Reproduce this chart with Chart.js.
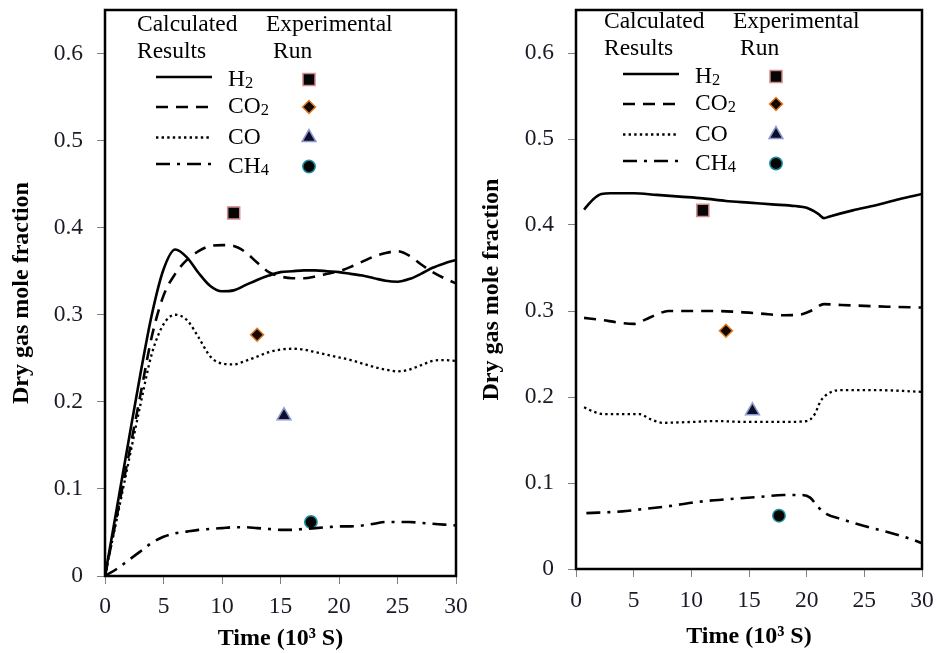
<!DOCTYPE html>
<html>
<head>
<meta charset="utf-8">
<script src="https://cdn.jsdelivr.net/npm/chart.js@4.4.0/dist/chart.umd.min.js"></script>
<style>
  body { margin: 0; background: #fff; width: 937px; height: 653px; position: relative; overflow: hidden; }
  canvas { position: absolute; top: 0; }
  #leftChart { left: 0; }
  #rightChart { left: 468px; }
</style>
</head>
<body>
<canvas id="leftChart" width="468" height="653"></canvas>
<canvas id="rightChart" width="469" height="653"></canvas>
<script>
// species shown in both panels (subscript kept apart so it can be drawn small)
const speciesNames = ['H', 'CO', 'CO', 'CH'];
const speciesSubs = ['2', '2', '', '4'];
const seriesLabels = ['H₂', 'CO₂', 'CO', 'CH₄'];
const calcHeading = ['Calculated', 'Results'];
const expHeading = ['Experimental', 'Run'];

// experimental run, time in 10^3 s
const expTime = [11.0, 13.0, 15.3, 17.6];
const expValues = [0.417, 0.277, 0.184, 0.062];

// left panel: calculated results on one time grid
const leftTime = [0,1,2,3,4,5,6,7,8,9,10,11,12,13,14,15,16,17,18,19,20,21,22,23,24,25,26,27,28,29,30];
const leftH2  = [0,0.077,0.154,0.23,0.3,0.352,0.375,0.366,0.348,0.333,0.327,0.328,0.334,0.34,0.345,0.349,0.35,0.351,0.351,0.35,0.349,0.347,0.345,0.342,0.339,0.338,0.341,0.347,0.354,0.359,0.363];
const leftCO2 = [0,0.068,0.137,0.206,0.275,0.322,0.347,0.363,0.373,0.379,0.38,0.379,0.372,0.36,0.349,0.344,0.342,0.342,0.344,0.347,0.35,0.355,0.361,0.367,0.371,0.373,0.368,0.358,0.349,0.342,0.336];
const leftCO  = [0,0.065,0.13,0.195,0.255,0.289,0.3,0.294,0.274,0.252,0.244,0.243,0.247,0.252,0.257,0.26,0.261,0.26,0.257,0.254,0.251,0.248,0.244,0.24,0.237,0.235,0.237,0.242,0.247,0.248,0.247];
const leftCH4 = [0,0.008,0.018,0.028,0.038,0.045,0.049,0.051,0.053,0.054,0.055,0.056,0.056,0.055,0.054,0.053,0.053,0.054,0.055,0.056,0.057,0.057,0.058,0.06,0.062,0.062,0.062,0.061,0.06,0.059,0.058];

// right panel: calculated results, each with its own time points
const rightH2Time  = [0.7,1.5,2.2,3,5,7,9,11,13,15,17,19,20,21,21.5,22,24,26,28,30];
const rightH2      = [0.418,0.43,0.436,0.437,0.437,0.435,0.433,0.431,0.428,0.426,0.424,0.422,0.42,0.413,0.408,0.41,0.417,0.423,0.43,0.436];
const rightCO2Time = [0.7,2,4,5,6,7,8,10,12,14,16,18,19.5,20.5,21.5,23,25,27,30];
const rightCO2     = [0.292,0.29,0.286,0.285,0.29,0.296,0.3,0.3,0.3,0.299,0.297,0.295,0.296,0.301,0.308,0.307,0.306,0.305,0.304];
const rightCOTime  = [0.7,1.5,2.5,4,5.5,6.5,7.5,10,12,15,18,20,20.7,21.2,22,23,26,30];
const rightCO      = [0.188,0.183,0.18,0.18,0.18,0.174,0.17,0.171,0.172,0.171,0.171,0.172,0.18,0.195,0.205,0.208,0.208,0.206];
const rightCH4Time = [0.9,4,6,8,10,12,14,16,18,19.5,20.3,21,21.7,23,25,27,29,30];
const rightCH4     = [0.065,0.067,0.07,0.073,0.077,0.08,0.082,0.084,0.086,0.086,0.083,0.072,0.064,0.058,0.05,0.043,0.035,0.03];

const yTicks = [0, 0.1, 0.2, 0.3, 0.4, 0.5, 0.6];
const xTicks = [0, 5, 10, 15, 20, 25, 30];

const serif = '"Liberation Serif", "Times New Roman", serif';
const tickColor = '#1b1b28';

function toPoints(times, values) {
  return times.map((t, i) => ({ x: t, y: values[i] }));
}

// line styles: solid, dashed, dotted, dash-dot
const lineStyles = [
  { borderDash: [], borderWidth: 2.6 },
  { borderDash: [12, 8], borderWidth: 2.6 },
  { borderDash: [2.4, 3.2], borderWidth: 2.3 },
  { borderDash: [14, 7, 3, 7], borderWidth: 2.6 }
];

function buildDatasets(series, tension) {
  const sets = series.map((pts, i) => ({
    label: seriesLabels[i],
    data: pts,
    borderColor: '#000',
    borderWidth: lineStyles[i].borderWidth,
    borderDash: lineStyles[i].borderDash,
    borderCapStyle: 'butt',
    pointRadius: 0,
    fill: false,
    tension: tension,
    cubicInterpolationMode: 'monotone'
  }));
  sets.push({
    type: 'scatter',
    label: 'Experimental Run',
    data: toPoints(expTime, expValues),
    showLine: false,
    pointStyle: ['rect', 'rectRot', 'triangle', 'circle'],
    pointRadius: [8.5, 6.5, 8, 6.2],
    backgroundColor: ['#050505', '#120800', '#0e0e2a', '#040404'],
    borderColor: ['#d28a8a', '#e07a22', '#8a9ad0', '#1f8f9f'],
    borderWidth: 1.5
  });
  return sets;
}

// black box around the plot area
const framePlugin = {
  id: 'frame',
  afterDatasetsDraw(chart) {
    const { ctx, chartArea: a } = chart;
    ctx.save();
    ctx.lineWidth = 2.5;
    ctx.strokeStyle = '#000';
    ctx.strokeRect(a.left, a.top, a.right - a.left, a.bottom - a.top);
    ctx.restore();
  }
};

// two-column key inside the plot: calculated lines and experimental markers
const keyPlugin = {
  id: 'keyBox',
  afterDraw(chart, args, opts) {
    const ctx = chart.ctx;
    const x0 = opts.x, y0 = opts.y;
    const lineRows = [52, 82, 112.5, 139];
    const textRows = [54.5, 82, 112.5, 141.5];
    ctx.save();
    ctx.fillStyle = '#000';
    ctx.textBaseline = 'middle';
    ctx.font = '23.5px ' + serif;
    ctx.fillText(calcHeading[0], x0, y0);
    ctx.fillText(calcHeading[1], x0, y0 + 27);
    ctx.fillText(expHeading[0], x0 + 129, y0);
    ctx.fillText(expHeading[1], x0 + 136, y0 + 27);

    const exp = chart.data.datasets[4];
    for (let i = 0; i < 4; i++) {
      const ds = chart.data.datasets[i];
      ctx.save();
      ctx.strokeStyle = '#000';
      ctx.lineWidth = ds.borderWidth;
      ctx.setLineDash(ds.borderDash);
      ctx.beginPath();
      ctx.moveTo(x0 + 19, y0 + lineRows[i]);
      ctx.lineTo(x0 + 75, y0 + lineRows[i]);
      ctx.stroke();
      ctx.restore();

      const ty = y0 + textRows[i];
      ctx.font = '23.5px ' + serif;
      ctx.fillText(speciesNames[i], x0 + 91, ty);
      if (speciesSubs[i]) {
        const w = ctx.measureText(speciesNames[i]).width;
        ctx.font = '16.5px ' + serif;
        ctx.fillText(speciesSubs[i], x0 + 91 + w, ty + 4);
      }

      ctx.save();
      ctx.fillStyle = exp.backgroundColor[i];
      ctx.strokeStyle = exp.borderColor[i];
      ctx.lineWidth = exp.borderWidth;
      Chart.helpers.drawPoint(ctx, {
        pointStyle: exp.pointStyle[i],
        radius: exp.pointRadius[i],
        borderWidth: exp.borderWidth,
        rotation: 0
      }, x0 + 172, ty);
      ctx.restore();
    }
    ctx.restore();
  }
};

// fixed axis box sizes, with no extra room reserved for edge labels
function fixBox(s, size, vertical) {
  if (vertical) s.width = size; else s.height = size;
  s.paddingTop = 0;
  s.paddingBottom = 0;
  s.paddingLeft = 0;
  s.paddingRight = 0;
}

function makeChart(id, series, tension, box) {
  const ctx = document.getElementById(id).getContext('2d');
  return new Chart(ctx, {
    type: 'line',
    data: { datasets: buildDatasets(series, tension) },
    options: {
      responsive: false,
      animation: false,
      devicePixelRatio: 1,
      layout: { padding: { top: box.top, right: box.right, left: 0, bottom: 0 } },
      plugins: {
        legend: { display: false },
        tooltip: { enabled: false },
        keyBox: { x: box.keyX, y: box.keyY }
      },
      scales: {
        x: {
          type: 'linear',
          min: 0,
          max: 30,
          afterBuildTicks: s => { s.ticks = xTicks.map(v => ({ value: v })); },
          ticks: { padding: box.xTickPad, font: { family: serif, size: 23.5 }, color: tickColor, maxRotation: 0 },
          grid: { drawOnChartArea: false, tickLength: 8, color: '#808080', lineWidth: 1 },
          border: { display: false },
          title: {
            display: true,
            text: 'Time (10³ S)',
            color: '#000',
            font: { family: serif, size: 24, weight: 'bold' },
            padding: { top: 0, bottom: box.xTitlePad }
          },
          afterFit: s => fixBox(s, box.xHeight, false)
        },
        y: {
          type: 'linear',
          min: 0,
          max: 0.65,
          afterBuildTicks: s => { s.ticks = yTicks.map(v => ({ value: v })); },
          ticks: {
            padding: 14,
            font: { family: serif, size: 23.5 },
            color: tickColor,
            callback: v => (v === 0 ? '0' : v.toFixed(1))
          },
          grid: { drawOnChartArea: false, tickLength: 8, color: '#808080', lineWidth: 1 },
          border: { display: false },
          title: {
            display: true,
            text: 'Dry gas mole fraction',
            color: '#000',
            font: { family: serif, size: 24, weight: 'bold' },
            padding: { top: box.yTitlePad, bottom: 0 }
          },
          afterFit: s => fixBox(s, box.yWidth, true)
        }
      }
    },
    plugins: [framePlugin, keyPlugin]
  });
}

makeChart('leftChart', [
  toPoints(leftTime, leftH2),
  toPoints(leftTime, leftCO2),
  toPoints(leftTime, leftCO),
  toPoints(leftTime, leftCH4)
], 0.4, { top: 5, right: 12, yWidth: 105, xHeight: 77, xTickPad: 9, xTitlePad: 0, yTitlePad: 7, keyX: 137, keyY: 25 });

makeChart('rightChart', [
  toPoints(rightH2Time, rightH2),
  toPoints(rightCO2Time, rightCO2),
  toPoints(rightCOTime, rightCO),
  toPoints(rightCH4Time, rightCH4)
], 0.2, { top: 4, right: 15, yWidth: 108, xHeight: 84, xTickPad: 10, xTitlePad: 2, yTitlePad: 9, keyX: 136, keyY: 22 });
</script>
</body>
</html>
